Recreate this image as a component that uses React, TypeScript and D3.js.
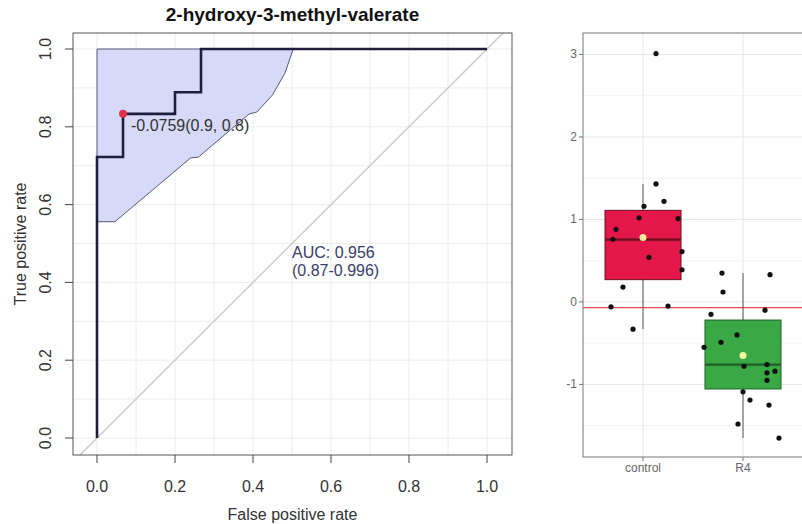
import React from 'react';
import * as d3 from 'd3';

// ---- ROC panel data ----
const title = '2-hydroxy-3-methyl-valerate';
const rocTicks = [0, 0.2, 0.4, 0.6, 0.8, 1.0];
const rocGrid = [0, 0.1, 0.2, 0.3, 0.4, 0.5, 0.6, 0.7, 0.8, 0.9, 1.0];
const rocFpr = [0, 0, 0.0667, 0.0667, 0.2, 0.2, 0.2667, 0.2667, 1];
const rocTpr = [0, 0.7222, 0.7222, 0.8333, 0.8333, 0.8889, 0.8889, 1, 1];
const ciFpr = [0, 0.046, 0.24, 0.26, 0.39, 0.41, 0.45, 0.482, 0.503, 0];
const ciTpr = [0.556, 0.556, 0.72, 0.722, 0.833, 0.838, 0.882, 0.938, 1, 1];
const cutoffFpr = 0.0667;
const cutoffTpr = 0.8333;
const cutoffLabel = '-0.0759(0.9, 0.8)';
const aucLines = ['AUC: 0.956', '(0.87-0.996)'];

// ---- box panel data ----
const groups = ['control', 'R4'];
const boxQ1 = [0.27, -1.055];
const boxMedian = [0.755, -0.76];
const boxQ3 = [1.11, -0.22];
const whiskerLo = [-0.33, -1.65];
const whiskerHi = [1.43, 0.35];
const groupMean = [0.78, -0.65];
const controlValues = [3.01, 1.43, 1.22, 1.16, 1.02, 1.01, 0.88, 0.76, 0.61, 0.54, 0.39, 0.18, -0.06, -0.05, -0.33];
const controlJitter = [0.13, 0.13, 0.21, 0.01, -0.04, 0.35, -0.27, -0.3, 0.39, 0.06, 0.39, -0.2, -0.32, 0.25, -0.1];
const r4Values = [0.35, 0.33, 0.12, -0.1, -0.15, -0.4, -0.49, -0.55, -0.78, -0.76, -0.84, -0.86, -0.95, -1.09, -1.19, -1.25, -1.48, -1.65];
const r4Jitter = [-0.21, 0.27, -0.2, 0.22, -0.32, -0.06, -0.22, -0.39, 0.01, 0.24, 0.32, 0.24, 0.24, 0, 0.07, 0.26, -0.05, 0.36];
const thresholdValue = -0.07;
const boxTicks = [-1, 0, 1, 2, 3];
const boxMinor = [-1.5, -0.5, 0.5, 1.5, 2.5];
const fills = ['#e3174a', '#3aa845'];
const strokes = ['#6b0f22', '#1c5e24'];

const font = '"Liberation Sans", Arial, Helvetica, sans-serif';

export default function App() {
  // ROC panel
  const x = d3.scaleLinear().domain([0, 1]).range([97, 487]);
  const y = d3.scaleLinear().domain([0, 1]).range([438, 49]);
  const box = { left: 73, right: 512, top: 33, bottom: 455 };
  const xLo = x.invert(box.left), xHi = x.invert(box.right);

  const line = d3.line<number>().x((_, i) => x(rocFpr[i])).y((_, i) => y(rocTpr[i]));
  const ciPath = d3.line<number>().x((_, i) => x(ciFpr[i])).y((_, i) => y(ciTpr[i]))(ciFpr) + 'Z';

  // box panel
  const xb = d3.scalePoint<string>().domain(groups).range([583, 803]).padding(0.6);
  const yb = d3.scaleLinear().domain([-1.88, 3.26]).range([457, 33]);
  const step = xb.step();
  const boxW = 0.76 * step;
  const pts = [
    ...controlValues.map((v, i) => ({ g: 'control', v, j: controlJitter[i] })),
    ...r4Values.map((v, i) => ({ g: 'R4', v, j: r4Jitter[i] })),
  ];

  return (
    <svg width={802} height={524} style={{ position: 'absolute', left: 0, top: 0, background: '#fff' }} fontFamily={font}>
      <defs>
        <clipPath id="rocClip">
          <rect x={box.left} y={box.top} width={box.right - box.left} height={box.bottom - box.top} />
        </clipPath>
      </defs>

      {/* ROC panel */}
      <g clipPath="url(#rocClip)">
        {rocGrid.map(t => (
          <g key={t}>
            <line x1={x(t)} x2={x(t)} y1={box.top} y2={box.bottom} stroke="#ececec" />
            <line x1={box.left} x2={box.right} y1={y(t)} y2={y(t)} stroke="#ececec" />
          </g>
        ))}
        <path d={ciPath} fill="#d6d9f8" stroke="#56597a" strokeWidth={1} />
        <line x1={x(xLo)} y1={y(xLo)} x2={x(xHi)} y2={y(xHi)} stroke="#cfcfcf" strokeWidth={1.6} />
        <path d={line(rocFpr) || ''} fill="none" stroke="#1e1e3c" strokeWidth={2.6} />
        <circle cx={x(cutoffFpr)} cy={y(cutoffTpr)} r={4} fill="#e0304a" />
      </g>
      <rect x={box.left} y={box.top} width={box.right - box.left} height={box.bottom - box.top} fill="none" stroke="#555" />
      <text x={x(cutoffFpr) + 8} y={y(cutoffTpr) + 17} fontSize={16} fill="#333">{cutoffLabel}</text>
      {aucLines.map((s, i) => (
        <text key={s} x={x(0.5)} y={258 + i * 18} fontSize={16} fill="#3a3d66">{s}</text>
      ))}
      {rocTicks.map(t => (
        <g key={t}>
          <line x1={x(t)} x2={x(t)} y1={box.bottom} y2={box.bottom + 8} stroke="#444" />
          <text x={x(t)} y={492} fontSize={16} textAnchor="middle" fill="#333">{t.toFixed(1)}</text>
          <line x1={box.left} x2={box.left - 8} y1={y(t)} y2={y(t)} stroke="#444" />
          <text transform={`translate(51,${y(t)}) rotate(-90)`} fontSize={16} textAnchor="middle" fill="#333">{t.toFixed(1)}</text>
        </g>
      ))}
      <text x={(box.left + box.right) / 2} y={520} fontSize={16} textAnchor="middle" fill="#333">False positive rate</text>
      <text transform={`translate(26,${(box.top + box.bottom) / 2}) rotate(-90)`} fontSize={16} textAnchor="middle" fill="#333">True positive rate</text>
      <text x={(box.left + box.right) / 2} y={21} fontSize={19} fontWeight="bold" textAnchor="middle" fill="#111">{title}</text>

      {/* box panel */}
      {boxMinor.map(t => (
        <line key={t} x1={583} x2={803} y1={yb(t)} y2={yb(t)} stroke="#f4f4f4" />
      ))}
      {boxTicks.map(t => (
        <line key={t} x1={583} x2={803} y1={yb(t)} y2={yb(t)} stroke="#e6e6e6" />
      ))}
      {groups.map(g => (
        <line key={g} x1={xb(g)} x2={xb(g)} y1={33} y2={457} stroke="#e6e6e6" />
      ))}
      {groups.map((g, i) => {
        const cx = xb(g) as number;
        return (
          <g key={g}>
            <line x1={cx} x2={cx} y1={yb(whiskerHi[i])} y2={yb(whiskerLo[i])} stroke="#555" strokeWidth={1} />
            <rect x={cx - boxW / 2} y={yb(boxQ3[i])} width={boxW} height={yb(boxQ1[i]) - yb(boxQ3[i])} fill={fills[i]} stroke={strokes[i]} strokeWidth={1} />
            <line x1={cx - boxW / 2} x2={cx + boxW / 2} y1={yb(boxMedian[i])} y2={yb(boxMedian[i])} stroke={strokes[i]} strokeWidth={2.4} />
          </g>
        );
      })}
      <line x1={583} x2={803} y1={yb(thresholdValue)} y2={yb(thresholdValue)} stroke="#e31a1c" strokeWidth={1} />
      {pts.map((p, i) => (
        <circle key={i} cx={(xb(p.g) as number) + p.j * step} cy={yb(p.v)} r={2.6} fill="#111" />
      ))}
      {groups.map((g, i) => (
        <circle key={g} cx={xb(g)} cy={yb(groupMean[i])} r={3.5} fill="#ffffa8" opacity={0.92} />
      ))}
      <rect x={583} y={33} width={220} height={424} fill="none" stroke="#777" />
      {boxTicks.map(t => (
        <g key={t}>
          <line x1={579} x2={583} y1={yb(t)} y2={yb(t)} stroke="#777" />
          <text x={577} y={yb(t) + 4} fontSize={12} textAnchor="end" fill="#666">{t}</text>
        </g>
      ))}
      {groups.map(g => (
        <g key={g}>
          <line x1={xb(g)} x2={xb(g)} y1={457} y2={461} stroke="#777" />
          <text x={xb(g)} y={472} fontSize={12} textAnchor="middle" fill="#666">{g}</text>
        </g>
      ))}
    </svg>
  );
}
